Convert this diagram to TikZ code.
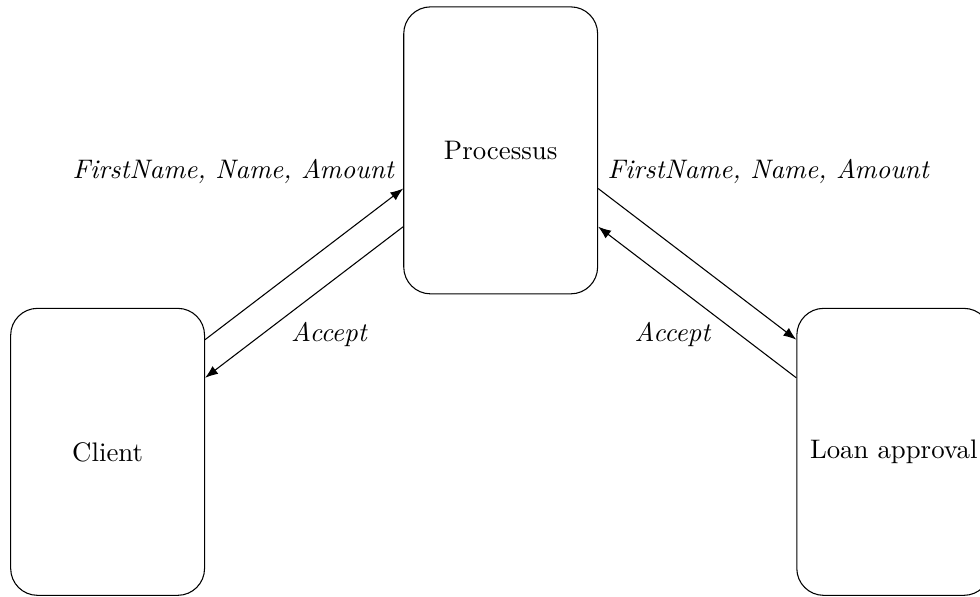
\documentclass[tikz,border=0pt]{standalone}
\usepackage{xcolor}
\usepackage{tikz}
\usetikzlibrary{arrows.meta}

\begin{document}
\begin{tikzpicture}[thin,
            main/.style = {draw=black, text=black, rounded corners=10pt, minimum width=2.54cm, minimum height=3.76cm},
            flow/.style = {text=black, font=\itshape},
            EdgeStyle/.style = {-{Latex}, draw=black}]
        \useasboundingbox (0,0) rectangle (12.84,7.81);
        \node[main] (C) at (1.41,1.89) {Client};
        \node[main] (P) at (6.56,5.84) {Processus};
        \node[main] (L) at (11.71,1.89) {Loan approval}; % box runs past the right border

        \draw[EdgeStyle] ([yshift=1.47cm]C.east) -- ([yshift=-0.5cm]P.west) node[flow, pos=1, anchor=base east, yshift=0.13cm] {FirstName, Name, Amount};
        \draw[EdgeStyle] ([yshift=-1cm]P.west) -- ([yshift=0.97cm]C.east) node[flow, pos=0.375, below=0.39cm] {Accept};
        \draw[EdgeStyle] ([yshift=-0.5cm]P.east) -- ([yshift=1.47cm]L.west) node[flow, pos=0, anchor=base west, yshift=0.13cm] {FirstName, Name, Amount};
        \draw[EdgeStyle] ([yshift=0.97cm]L.west) -- ([yshift=-1cm]P.east) node[flow, pos=0.625, below=0.39cm] {Accept};
        \end{tikzpicture}
\end{document}
